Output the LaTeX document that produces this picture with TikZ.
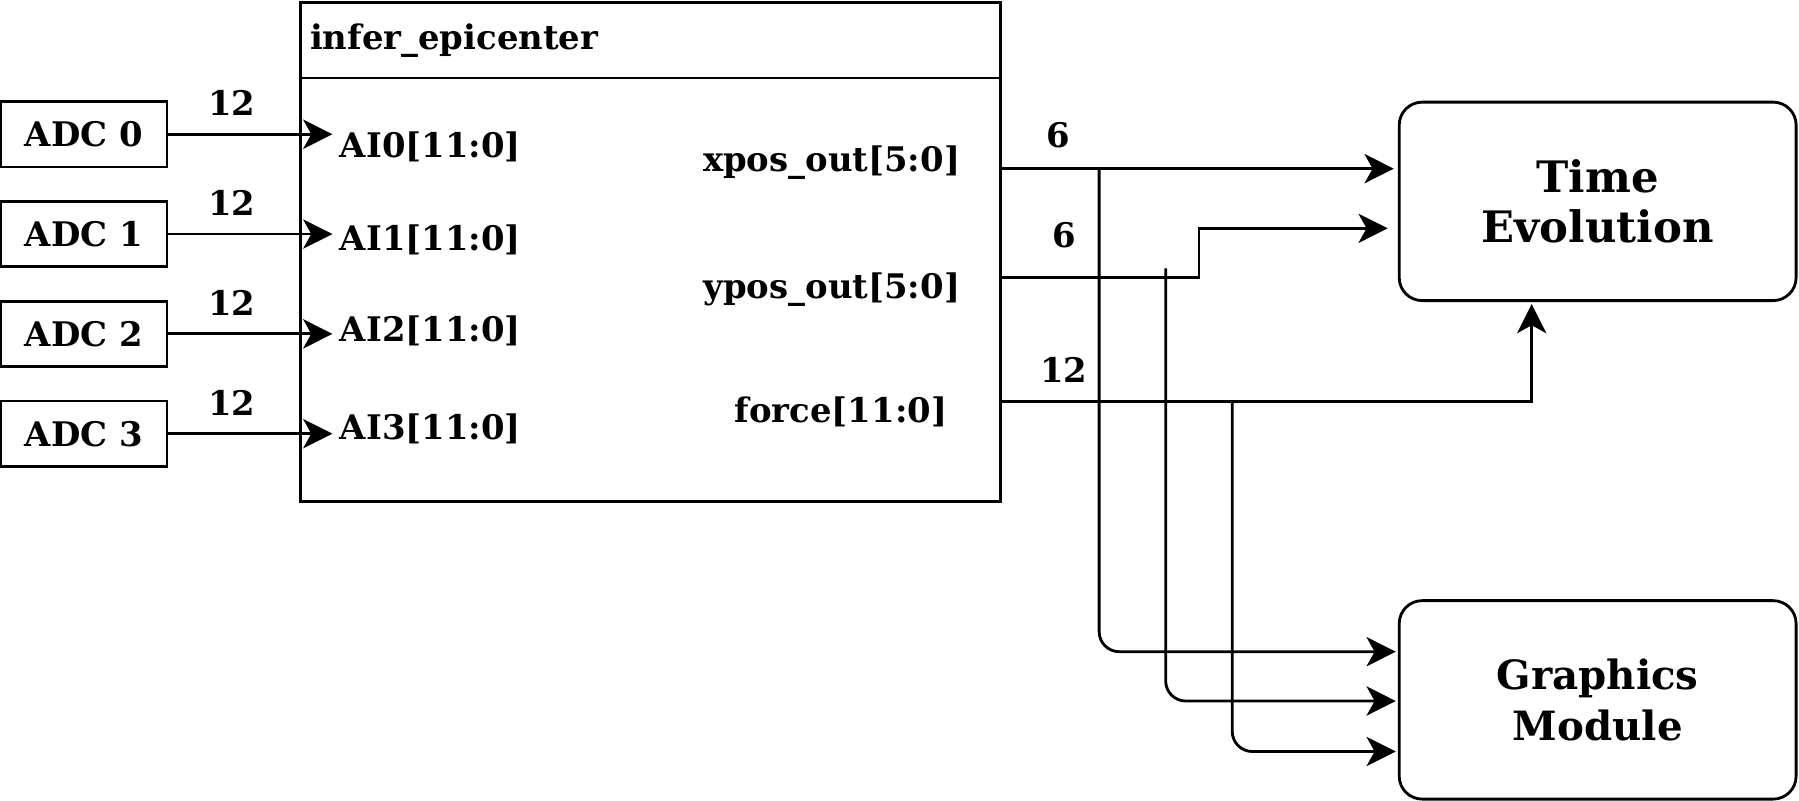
\documentclass[tikz,border=0pt]{standalone}
\usepackage{fontspec}
\setmainfont{DejaVu Serif}
\usetikzlibrary{arrows.meta,calc}
\begin{document}
\begin{tikzpicture}[x=0.02cm,y=-0.02cm,line width=1.4pt,
  txt/.style={font=\fontsize{16.8}{20}\selectfont\bfseries,inner sep=0pt},
  big/.style={font=\fontsize{#1}{25}\selectfont\bfseries,align=center},
  adc/.style={draw,minimum width=2.9cm,minimum height=1.14cm,inner sep=0pt,txt},
  module/.style={draw,rounded corners=0.4cm,minimum width=6.92cm,minimum height=3.46cm,big=#1},
  arr/.style={-{Stealth[length=14.5pt,width=14.5pt,inset=4pt]}},
  roundbus/.style={rounded corners=0.35cm},
]
\useasboundingbox (0,0) rectangle (1568,698);

% analog inputs
\node[adc] (adc0) at (73,117) {ADC 0};
\node[adc] (adc1) at (73,204) {ADC 1};
\node[adc] (adc2) at (73,291) {ADC 2};
\node[adc] (adc3) at (73,378) {ADC 3};

% epicenter block with header
\node[draw,anchor=north west,minimum width=12.2cm,minimum height=8.7cm,inner sep=0pt] (main) at (261,1) {};
\draw (main.west |- 0,68) -- (main.east |- 0,68);
\node[txt,anchor=west] (title) at (269,35) {infer\_epicenter};

% input ports
\node[txt,anchor=west] (ai0) at (295,128) {AI0[11:0]};
\node[txt,anchor=west] (ai1) at (295,209) {AI1[11:0]};
\node[txt,anchor=west] (ai2) at (295,288) {AI2[11:0]};
\node[txt,anchor=west] (ai3) at (295,374) {AI3[11:0]};

% output ports
\node[txt,anchor=east] (xpos) at (838,142) {xpos\_out[5:0]};
\node[txt,anchor=east] (ypos) at (838,252) {ypos\_out[5:0]};
\node[txt] (force) at (733,359) {force[11:0]};

% downstream modules
\node[module=21.5] (time) at (1392.5,175.5) {Time\\Evolution};
\node[module=20] (gm) at (1392.5,610) {Graphics\\Module};

% input buses
\draw[arr,shorten >=3pt] (adc0.east) -- (adc0.east -| ai0.west);
\draw[arr,shorten >=3pt] (adc1.east) -- (adc1.east -| ai1.west);
\draw[arr,shorten >=3pt] (adc2.east) -- (adc2.east -| ai2.west);
\draw[arr,shorten >=3pt] (adc3.east) -- (adc3.east -| ai3.west);
\node[txt] (w0) at (202,90) {12};
\node[txt] (w1) at (202,177) {12};
\node[txt] (w2) at (202,264) {12};
\node[txt] (w3) at (202,351) {12};

% output buses
\coordinate (xo) at (main.east |- 0,147);
\coordinate (yo) at (main.east |- 0,242);
\coordinate (fo) at (main.east |- 0,350);
\coordinate (xb) at (958,147);
\coordinate (yb) at (1016,234);
\coordinate (fb) at (1074,350);

\draw[arr,shorten >=2pt] (xo) -- (xo -| time.west);
\draw[arr,shorten >=5pt] (yo) -- (1045,242) -- (1045,199) -- (time.west |- 0,199);
\draw[arr,shorten >=1pt] (fo) -- (1335,350) -- (time.south -| 1335,0);

\draw[arr,roundbus,shorten >=1pt] (xb) -- (958,568) -- (gm.west |- 0,568);
\draw[arr,roundbus,shorten >=1pt] (yb) -- (1016,611) -- (gm.west |- 0,611);
\draw[arr,roundbus,shorten >=1pt] (fb) -- (1074,655) -- (gm.west |- 0,655);

\node[txt] (wx) at (922,118) {6};
\node[txt] (wy) at (928,205) {6};
\node[txt] (wf) at (927,322) {12};
\end{tikzpicture}
\end{document}
